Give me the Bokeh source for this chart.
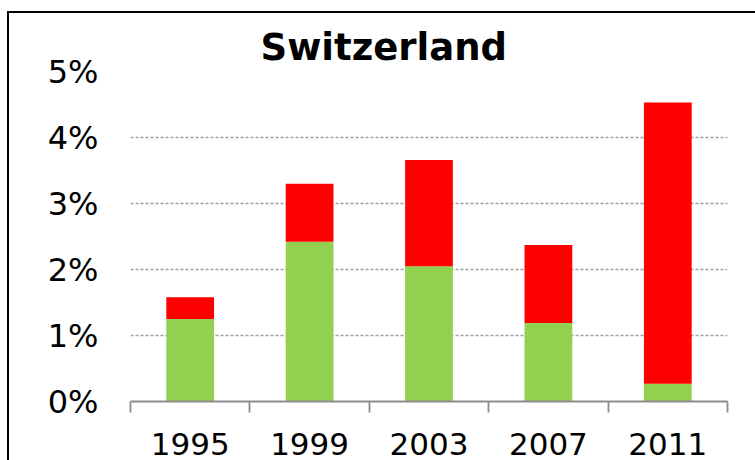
from bokeh.plotting import figure
from bokeh.models import Range1d, FixedTicker, NumeralTickFormatter, ColumnDataSource
from bokeh.embed import file_html
from bokeh.resources import INLINE

# ---- data ----
years = ["1995", "1999", "2003", "2007", "2011"]
green_share = [0.0125, 0.0242, 0.0205, 0.0119, 0.0027]
red_share = [0.0033, 0.0088, 0.0161, 0.0118, 0.0426]
y_ticks = [0.0, 0.01, 0.02, 0.03, 0.04, 0.05]
title_text = "Switzerland"

positions = [i + 0.5 for i in range(len(years))]
boundaries = [float(i) for i in range(len(years) + 1)]

source = ColumnDataSource(dict(x=positions, green=green_share, red=red_share))

p = figure(width=755, height=460,
           x_range=Range1d(0, len(years)), y_range=Range1d(0, 0.05),
           output_backend="svg", toolbar_location=None, title=title_text,
           min_border_left=130, min_border_right=28,
           min_border_top=71, min_border_bottom=59)

p.vbar_stack(["green", "red"], x="x", width=0.4,
             color=["#92D050", "#FF0000"], line_color=None, source=source)

FONT = "DejaVu Sans"

p.title.text_font = FONT
p.title.text_font_size = "37px"
p.title.text_font_style = "bold"
p.title.text_color = "black"
p.title.align = "left"
p.title.offset = 130
p.title.standoff = 5

# x axis
xa = p.xaxis[0]
xa.ticker = FixedTicker(ticks=positions, minor_ticks=boundaries)
xa.major_label_overrides = {pos: yr for pos, yr in zip(positions, years)}
xa.major_tick_out = 0
xa.major_tick_in = 0
xa.major_tick_line_color = None
xa.minor_tick_out = 11
xa.minor_tick_in = 0
xa.minor_tick_line_color = "#8c8c8c"
xa.minor_tick_line_width = 1.8
xa.axis_line_color = "#8c8c8c"
xa.axis_line_width = 1.8
xa.major_label_text_font = FONT
xa.major_label_text_font_size = "31px"
xa.major_label_text_color = "black"
xa.major_label_standoff = 20

# y axis
ya = p.yaxis[0]
ya.ticker = FixedTicker(ticks=y_ticks)
ya.formatter = NumeralTickFormatter(format="0%")
ya.axis_line_color = None
ya.major_tick_line_color = None
ya.minor_tick_line_color = None
ya.major_tick_out = 0
ya.major_tick_in = 0
ya.major_label_text_font = FONT
ya.major_label_text_font_size = "32px"
ya.major_label_text_color = "black"
ya.major_label_standoff = 32

p.xgrid.visible = False
p.ygrid.grid_line_color = "#a0a0a0"
p.ygrid.grid_line_dash = "3 2"
p.ygrid.grid_line_width = 1.3

p.outline_line_color = None
p.background_fill_color = "white"
p.border_fill_color = None

# chart-area frame: only its left and top edges fall inside the picture
p.styles = {
    "background-color": "white",
    "background-image": "linear-gradient(black, black), linear-gradient(black, black)",
    "background-size": "2px 100%, 100% 2px",
    "background-position": "7px 11px, 7px 11px",
    "background-repeat": "no-repeat",
}

open("out.html", "w").write(file_html(p, INLINE))
